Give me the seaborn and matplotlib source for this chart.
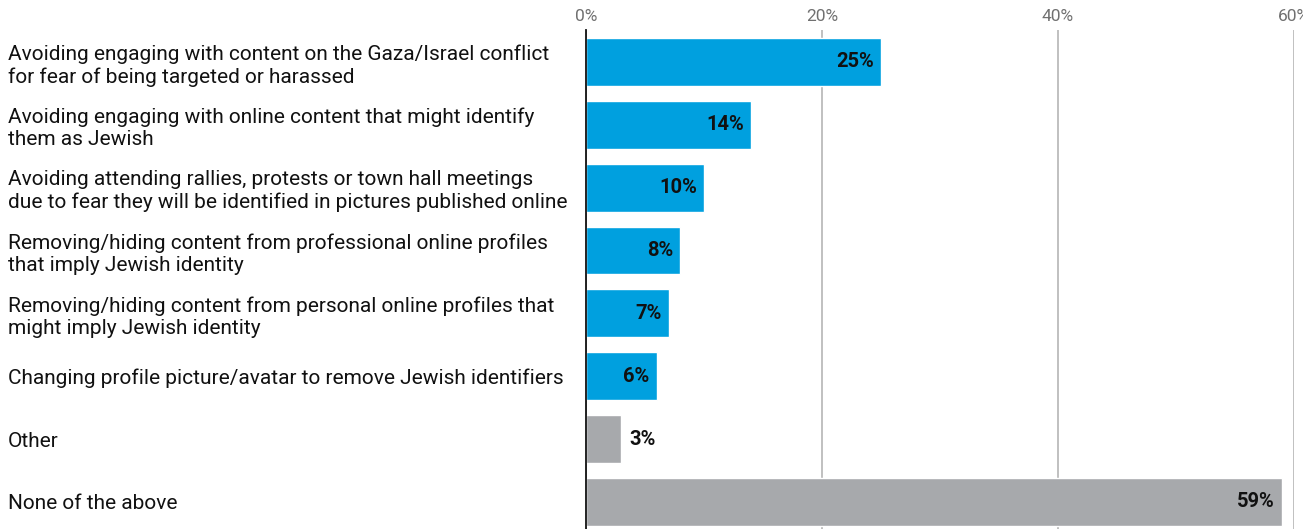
import matplotlib
matplotlib.use("Agg")
import matplotlib.pyplot as plt
import seaborn as sns
import pandas as pd

categories = [
    "Avoiding engaging with content on the Gaza/Israel conflict\nfor fear of being targeted or harassed",
    "Avoiding engaging with online content that might identify\nthem as Jewish",
    "Avoiding attending rallies, protests or town hall meetings\ndue to fear they will be identified in pictures published online",
    "Removing/hiding content from professional online profiles\nthat imply Jewish identity",
    "Removing/hiding content from personal online profiles that\nmight imply Jewish identity",
    "Changing profile picture/avatar to remove Jewish identifiers",
    "Other",
    "None of the above",
]
values = [25, 14, 10, 8, 7, 6, 3, 59]
groups = ["action", "action", "action", "action", "action", "action", "other", "other"]
tick_values = [0, 20, 40, 60]
tick_labels = ["0%", "20%", "40%", "60%"]

df = pd.DataFrame({"category": categories, "value": values, "group": groups})

sns.set_theme(style="white")
plt.rcParams["font.family"] = ["Roboto", "DejaVu Sans"]

fig = plt.figure(figsize=(13.03, 5.29), dpi=100)
ax = fig.add_axes([586 / 1303, 0, (1294 - 586) / 1303, (529 - 30) / 529])

sns.barplot(
    data=df, x="value", y="category", hue="group",
    palette={"action": "#00A0DF", "other": "#A7A9AC"},
    dodge=False, width=0.76, legend=False, ax=ax, saturation=1,
)

ax.set_xlim(0, 60)
ax.set_ylim(7.43, -0.508)
ax.set_xlabel("")
ax.set_ylabel("")

ax.xaxis.tick_top()
ax.set_xticks(tick_values, tick_labels)
ax.tick_params(axis="x", length=0, pad=4, labelsize=12.5, labelcolor="#707070")
ax.grid(axis="x", color="#B5B5B5", linewidth=1.2)
ax.set_axisbelow(True)

ax.tick_params(axis="y", length=0, pad=416, labelsize=15, labelcolor="#111111")
for lab in ax.get_yticklabels():
    lab.set_horizontalalignment("left")

for side in ["top", "right", "bottom"]:
    ax.spines[side].set_visible(False)
ax.spines["left"].set_color("#111111")
ax.spines["left"].set_linewidth(1.3)
ax.spines["left"].set_zorder(5)

# Value labels: inside the bar end when it fits, otherwise just outside
for i, v in enumerate(values):
    if v >= 5:
        ax.text(v - 0.6, i, f"{v}%", ha="right", va="center",
                fontsize=14.5, fontweight="bold", color="#111111")
    else:
        ax.text(v + 0.7, i, f"{v}%", ha="left", va="center",
                fontsize=14.5, fontweight="bold", color="#111111")

fig.savefig("out.png", dpi=100)
